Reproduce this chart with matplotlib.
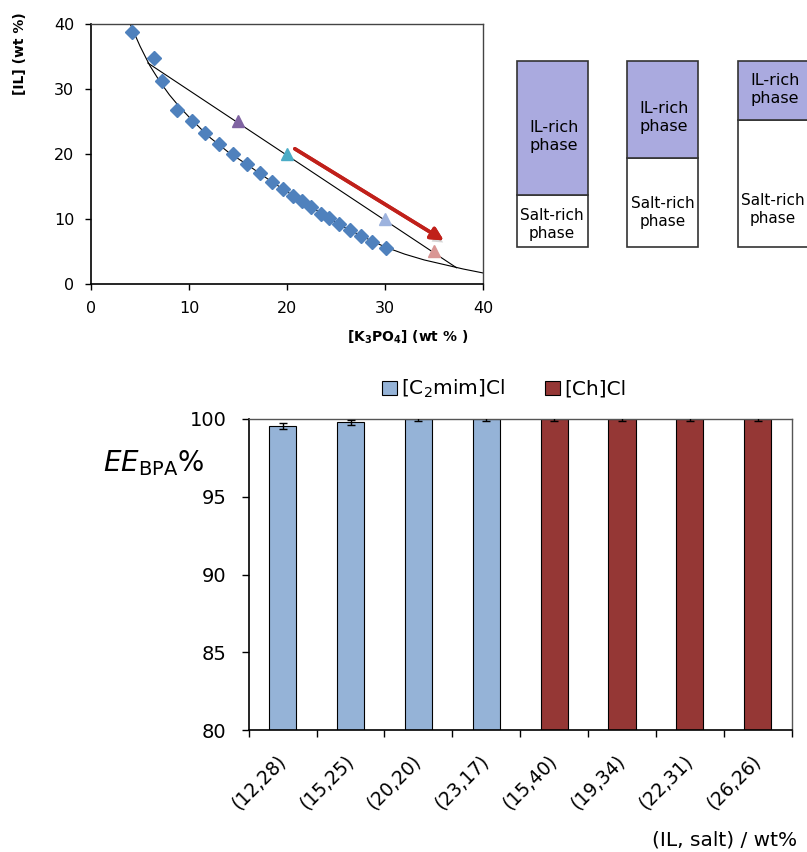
import matplotlib
matplotlib.use("Agg")
import matplotlib.pyplot as plt
import matplotlib.patheffects as pe
import numpy as np

# ---------------- data ----------------
# binodal experimental points (K3PO4 wt%, IL wt%)
bin_x = [4.2, 6.4, 7.2, 8.8, 10.3, 11.6, 13.1, 14.5, 15.9, 17.2, 18.5, 19.6,
         20.6, 21.5, 22.4, 23.5, 24.3, 25.3, 26.4, 27.6, 28.7, 30.1]
bin_y = [38.7, 34.7, 31.3, 26.8, 25.1, 23.3, 21.5, 20.0, 18.5, 17.0, 15.7, 14.6,
         13.5, 12.8, 11.8, 10.8, 10.1, 9.2, 8.3, 7.4, 6.5, 5.6]
# fitted binodal curve
curve_x = [4.0, 5.0, 6.0, 7.0, 8.0, 9.0, 10.0, 12.0, 14.0, 16.0, 18.0, 20.0,
           22.0, 24.0, 26.0, 28.0, 30.0, 32.0, 34.0, 36.0, 38.0, 40.0]
curve_y = [40.0, 36.6, 33.6, 31.2, 29.1, 27.3, 25.7, 22.7, 20.3, 18.3, 16.2, 14.2,
           12.3, 10.4, 8.6, 7.1, 5.7, 4.6, 3.7, 3.0, 2.3, 1.7]
# tie line
tie_x = [5.8, 37.3]
tie_y = [34.0, 2.5]
# mixture points
mix_x = [15, 20, 30, 35]
mix_y = [25, 20, 10, 5]
mix_colors = ["#8064A2", "#4BACC6", "#9DB3DE", "#D99694"]
# arrow
arrow_start = (20.8, 20.8)
arrow_end = (36.0, 6.7)

# phase schematic: fraction of IL-rich phase
il_fraction = [0.72, 0.52, 0.318]

# bar chart
categories = ["(12,28)", "(15,25)", "(20,20)", "(23,17)",
              "(15,40)", "(19,34)", "(22,31)", "(26,26)"]
ee = [99.55, 99.78, 99.99, 99.99, 99.99, 99.99, 99.99, 99.99]
ee_err = [0.21, 0.18, 0.15, 0.15, 0.15, 0.15, 0.15, 0.15]
series_names = ["[C$_2$mim]Cl", "[Ch]Cl"]
series_colors = ["#95B3D7", "#953735"]

plt.rcParams["font.family"] = ["DejaVu Sans"]
plt.rcParams["mathtext.fontset"] = "dejavusans"

W, H = 807, 852
fig = plt.figure(figsize=(W / 100, H / 100), dpi=100)

def box(l, t, r, b):
    return [l / W, 1 - b / H, (r - l) / W, (b - t) / H]

# ---------------- top phase diagram ----------------
ax1 = fig.add_axes(box(91, 24, 483, 284))
ax1.plot(curve_x, curve_y, color="black", lw=0.8, zorder=2)
ax1.plot(tie_x, tie_y, color="black", lw=0.8, zorder=2)
ax1.plot(bin_x, bin_y, linestyle="none", marker="D", ms=6.8,
         color="#4F81BD", zorder=3)
for x, y, c in zip(mix_x, mix_y, mix_colors):
    ax1.plot([x], [y], linestyle="none", marker="^", ms=9, color=c, zorder=4)
ax1.annotate("", xy=arrow_end, xytext=arrow_start,
             arrowprops=dict(arrowstyle="-|>,head_length=0.75,head_width=0.38",
                             color="#C0201A", lw=2.6, shrinkA=0, shrinkB=0,
                             path_effects=[pe.withSimplePatchShadow(offset=(2, -3), shadow_rgbFace="#888888", alpha=0.35), pe.Normal()]),
             zorder=5)
ax1.set_xlim(0, 40)
ax1.set_ylim(0, 40)
ax1.set_xticks([0, 10, 20, 30, 40])
ax1.set_yticks([0, 10, 20, 30, 40])
ax1.tick_params(direction="out", length=4, width=1, labelsize=11.5, pad=8,
                colors="black")
for s in ["left", "bottom"]:
    ax1.spines[s].set_linewidth(1.2)
    ax1.spines[s].set_color("black")
for s in ["top", "right"]:
    ax1.spines[s].set_linewidth(1.0)
    ax1.spines[s].set_color("#444444")

fig.text(20 / W, 1 - 54 / H, "[IL] (wt %)", rotation=90, ha="center",
         va="center", fontsize=10, fontweight="bold")
fig.text(408 / W, 1 - 337 / H, r"[K$_\mathbf{3}$PO$_\mathbf{4}$] (wt % )",
         ha="center", va="center", fontsize=10, fontweight="bold")

# ---------------- phase schematic ----------------
box_lefts = [516.7, 627.0, 737.7]
il_text_pos = [0.593, 0.696, 0.843]
salt_text_pos = [0.12, 0.184, 0.2]
for left, frac, ipos, spos in zip(box_lefts, il_fraction, il_text_pos, salt_text_pos):
    axb = fig.add_axes(box(left, 60.7, left + 71, 247.3))
    axb.bar(0, 1 - frac, width=1, bottom=0, color="white",
            edgecolor="#333333", lw=1.2, clip_on=False)
    axb.bar(0, frac, width=1, bottom=1 - frac, color="#AAAADF",
            edgecolor="#333333", lw=1.2, clip_on=False)
    axb.set_xlim(-0.5, 0.5)
    axb.set_ylim(0, 1)
    axb.axis("off")
    axb.text(0.02, ipos, "IL-rich\nphase", ha="center", va="center",
             fontsize=11.5, linespacing=1.25)
    axb.text(0.0, spos, "Salt-rich\nphase", ha="center", va="center",
             fontsize=11, linespacing=1.25)

# ---------------- bar chart ----------------
ax2 = fig.add_axes(box(248.7, 419, 791.7, 730))
xpos = np.arange(len(categories))
n1 = 4
b1 = ax2.bar(xpos[:n1], ee[:n1], width=0.40, bottom=0, color=series_colors[0],
             edgecolor="black", lw=0.8, label=series_names[0])
b2 = ax2.bar(xpos[n1:], ee[n1:], width=0.40, bottom=0, color=series_colors[1],
             edgecolor="black", lw=0.8, label=series_names[1])
ax2.errorbar(xpos, ee, yerr=ee_err, fmt="none", ecolor="black", elinewidth=1,
             capsize=3, capthick=1, zorder=5)
ax2.set_xlim(-0.5, len(categories) - 0.5)
ax2.set_ylim(80, 100)
ax2.set_yticks([80, 85, 90, 95, 100])
ax2.set_xticks(xpos)
ax2.set_xticklabels(categories, rotation=45, ha="right", va="center",
                    rotation_mode="anchor")
ax2.set_xticks(np.arange(len(categories) + 1) - 0.5, minor=True)
ax2.tick_params(axis="x", which="major", length=0, pad=20, labelsize=13.5)
ax2.tick_params(axis="x", which="minor", length=5, width=1, direction="out")
ax2.tick_params(axis="y", length=5, width=1, direction="out", pad=11,
                labelsize=14)
for s in ["left", "bottom"]:
    ax2.spines[s].set_linewidth(1.2)
    ax2.spines[s].set_color("black")
for s in ["top", "right"]:
    ax2.spines[s].set_linewidth(1.0)
    ax2.spines[s].set_color("#555555")

fig.text(103 / W, 1 - 471.7 / H, r"$\mathit{EE}_{\mathrm{BPA}}$%", ha="left",
         va="baseline", fontsize=20)
fig.text(797 / W, 1 - 845 / H, "(IL, salt) / wt%", ha="right", va="baseline",
         fontsize=14.5)

fig.legend(handles=[b1, b2], labels=series_names, loc="center",
           bbox_to_anchor=(504 / W, 1 - 389 / H), ncol=2, frameon=False,
           fontsize=14.5, handlelength=0.75, handleheight=0.7,
           handletextpad=0.2, columnspacing=2.0, borderpad=0)

fig.savefig("out.png", dpi=100)
